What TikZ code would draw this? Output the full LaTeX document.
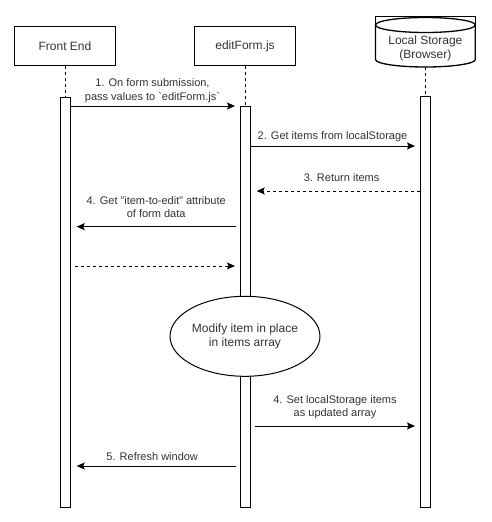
\documentclass[tikz,border=0pt]{standalone}
\usepackage{fontspec}
\setmainfont{Liberation Sans}
\usetikzlibrary{arrows.meta,shapes.geometric}
\begin{document}
\begin{tikzpicture}[x=1pt,y=-1pt, line width=1pt,
  actor/.style={draw, minimum width=101pt, minimum height=39pt, font=\fontsize{12}{14}\selectfont, text=black!80, inner sep=0pt},
  bar/.style={draw, fill=white, minimum width=10pt, inner sep=0pt, anchor=north},
  life/.style={dash pattern=on 3pt off 3pt},
  msg/.style={-{Stealth[length=8pt,width=7pt,inset=1.5pt]}},
  ret/.style={msg, dash pattern=on 3pt off 3pt},
  lbl/.style={font=\fontsize{11}{13.5}\selectfont, align=center, text=black!80, inner sep=0pt},
  cyl/.style={line width=1.3pt},
]
\useasboundingbox (0,0) rectangle (492,522);
\fill[white] (0,0) rectangle (492,522);

% actors
\node[actor] (fe) at (65,46.2) {Front End};
\node[actor] (ef) at (245,46.2) {editForm.js};

% local storage cylinder
\draw (375.5,25) -- (375.5,16) -- (475.3,16) -- (475.3,25);
\draw[cyl] (375.5,25) -- (375.5,59.5) arc[start angle=180,end angle=360,x radius=49.9pt,y radius=7.5pt] -- (475.3,25);
\draw[cyl] (425.4,25) ellipse[x radius=49.9pt,y radius=7.5pt];
\node[lbl, font=\fontsize{12}{13.3}\selectfont] (ls) at (425.4,48.4) {Local Storage\\(Browser)};
\coordinate (lsb) at (425.4,67);

% activation bars
\node[bar, minimum height=410pt] (bfe) at (65,96.7) {};
\node[bar, minimum height=400.7pt] (bef) at (245,106) {};
\node[bar, minimum height=410.7pt] (bls) at (425.4,96) {};

% lifelines
\draw[life] (fe.south) -- (bfe.north);
\draw[life] (ef.south) -- (bef.north);
\draw[life] (lsb) -- (bls.north);

% process ellipse
\node[draw, ellipse, fill=white, minimum width=120pt, minimum height=80pt, inner sep=0pt,
      align=center, text=black!80, font=\fontsize{12}{14.3}\selectfont] (mod) at (245,336.3)
      {Modify item in place\\in items array};

% message end points
\coordinate (m1a) at (70,106);    \coordinate (m1b) at (235,106);
\coordinate (m2a) at (250,146);   \coordinate (m2b) at (415,146);
\coordinate (m3a) at (420.4,191); \coordinate (m3b) at (256.7,191);
\coordinate (m4a) at (235.7,226.7); \coordinate (m4b) at (76.7,226.7);
\coordinate (m6a) at (75,266);    \coordinate (m6b) at (235,266);
\coordinate (m7a) at (255,426);   \coordinate (m7b) at (415,426);
\coordinate (m8a) at (235.7,466); \coordinate (m8b) at (76.7,466);

% messages
\draw[msg] (m1a) -- node[lbl, yshift=15.5pt] (l1) {1. On form submission,\\pass values to \textasciigrave editForm.js\textasciigrave} (m1b);
\draw[msg] (m2a) -- node[lbl, yshift=9.3pt] (l2) {2. Get items from localStorage} (m2b);
\draw[ret] (m3a) -- node[lbl, yshift=13.7pt, xshift=3pt] (l3) {3. Return items} (m3b);
\draw[msg] (m4a) -- node[lbl, yshift=19.4pt] (l4) {4. Get "item-to-edit" attribute\\of form data} (m4b);
\draw[ret] (m6a) -- (m6b);
\draw[msg] (m7a) -- node[lbl, yshift=18.8pt] (l7) {4. Set localStorage items\\as updated array} (m7b);
\draw[msg] (m8a) -- node[lbl, yshift=9.3pt, xshift=-4pt] (l8) {5. Refresh window} (m8b);
\end{tikzpicture}
\end{document}
